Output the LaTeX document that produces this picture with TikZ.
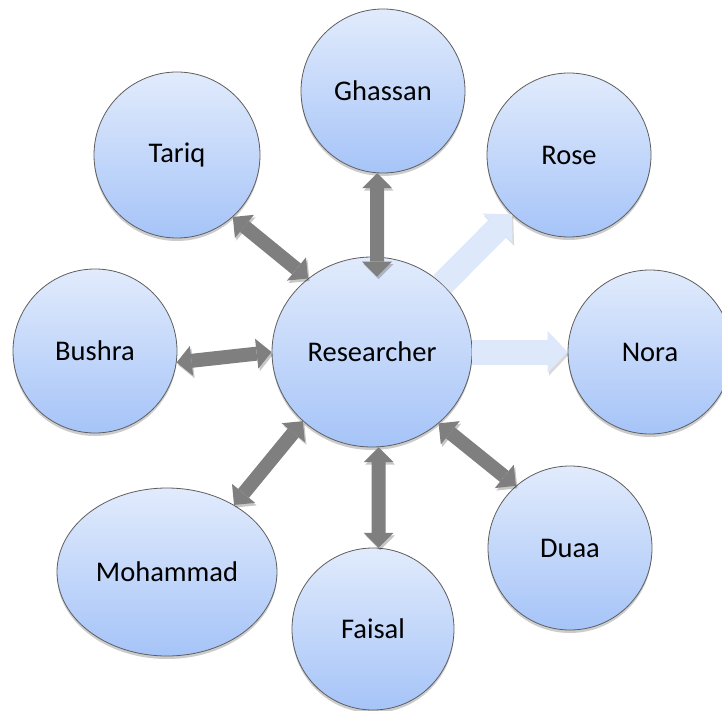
\documentclass[tikz,border=0pt]{standalone}
\usepackage{fontspec}
\setmainfont{Carlito}
\usetikzlibrary{arrows.meta,shadows,calc,shapes.geometric}
\definecolor{blobtop}{HTML}{E1EBFC}
\definecolor{blobbot}{HTML}{A6C4F8}
\definecolor{rim}{HTML}{5E5E5E}
\definecolor{linkgray}{HTML}{7F7F7F}
\definecolor{pale}{HTML}{DDE8FB}
\tikzset{
  person/.style={ellipse, draw=rim, line width=0.8pt, top color=blobtop,
    bottom color=blobbot, inner sep=0pt, font=\fontsize{28.5}{32}\selectfont,
    drop shadow={shadow xshift=0pt, shadow yshift=-3pt, opacity=0.2, fill=black}},
  twoway/.style={draw=linkgray, line width=14pt, {Triangle[width=30pt,length=15pt,line width=0pt]}-{Triangle[width=30pt,length=15pt,line width=0pt]},
    preaction={draw=black, opacity=0.22, transform canvas={shift={(1.5pt,-2.5pt)}}}},
  oneway/.style={draw=pale, line width=25pt, -{Triangle[width=42pt,length=20pt,line width=0pt]},
    preaction={draw=black, opacity=0.15, transform canvas={shift={(1.5pt,-2.5pt)}}}}
}
\begin{document}
\begin{tikzpicture}[x=1pt,y=-1pt]
\useasboundingbox (0,0) rectangle (722,711);
\fill[white] (0,0) rectangle (722,711);

% people
\node[person, minimum width=200pt, minimum height=190pt] (res) at (372,352) {Researcher};
\node[person, minimum size=164pt] (ghassan) at (383,91) {Ghassan};
\node[person, minimum size=166pt] (tariq) at (177,155) {Tariq};
\node[person, minimum size=164pt] (rose) at (569,155) {Rose};
\node[person, minimum size=164pt] (bushra) at (95,351) {Bushra};
\node[person, minimum size=164pt] (nora) at (650,352) {Nora};
\node[person, minimum width=220pt, minimum height=168pt] (mohammad) at (167,572) {Mohammad};
\node[person, minimum size=162pt] (faisal) at (373,629) {Faisal};
\node[person, minimum size=164pt] (duaa) at (570,548) {Duaa};

% two-way links
\draw[twoway] (ghassan.-94) -- ($(res.north)+(5,20)$);
\draw[twoway] (tariq.-48.4) -- (res.131.6);
\draw[twoway] (bushra.-8.3) -- (res.180.6);
\draw[twoway] (mohammad.45.8) -- (res.225.4);
\draw[twoway] (res.-86.4) -- (faisal.86.5);
\draw[twoway] (res.-47.5) -- (duaa.131);

% one-way links
\draw[oneway] (res.44.2) -- (rose.-134.5);
\draw[oneway] (res.east) -- (nora.west);
\end{tikzpicture}
\end{document}
